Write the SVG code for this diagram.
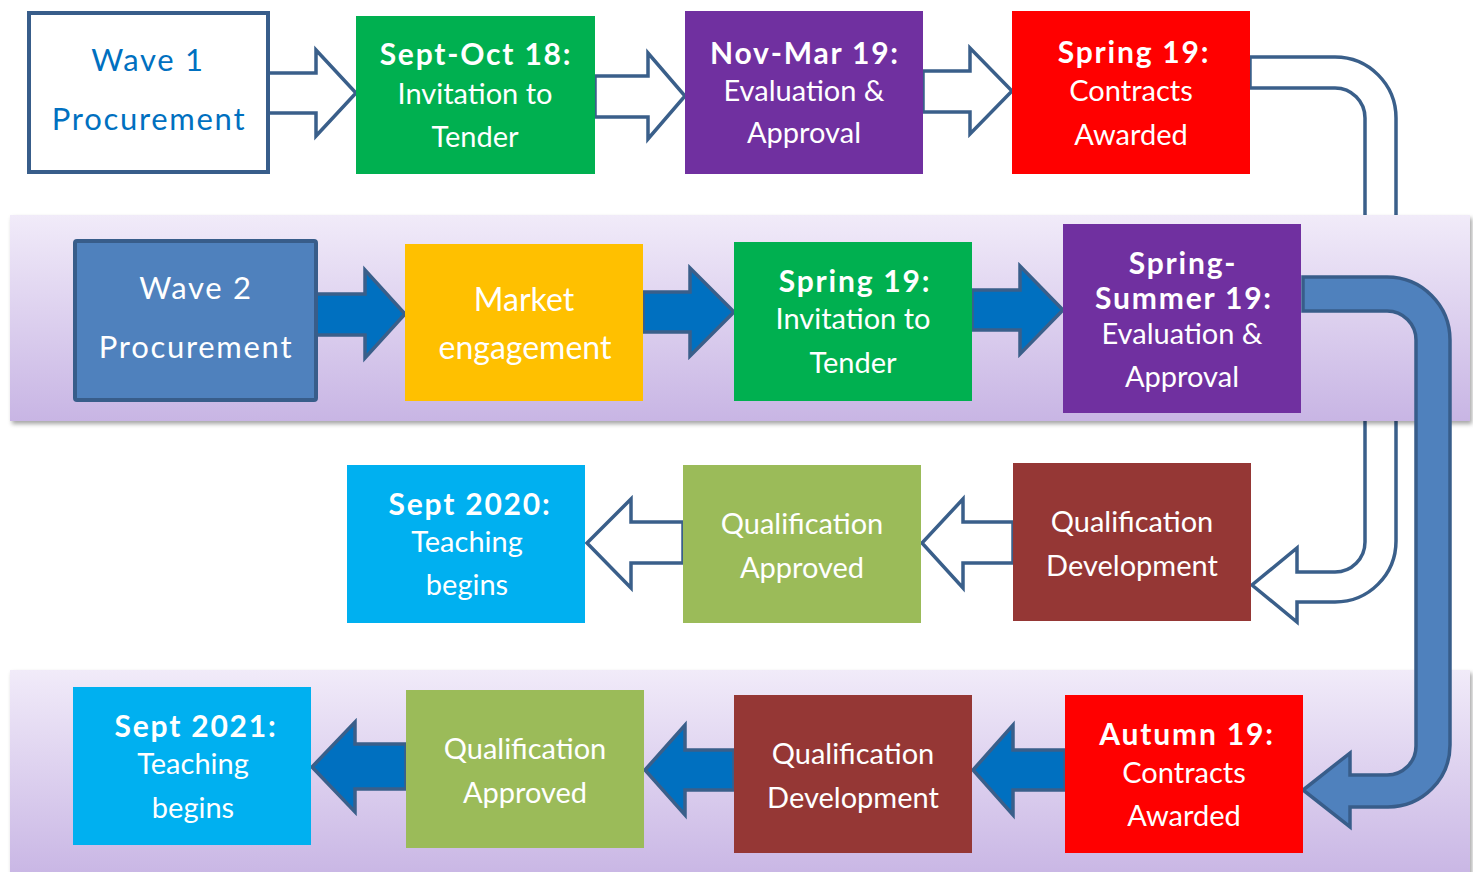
<svg xmlns="http://www.w3.org/2000/svg" width="1473" height="872" viewBox="0 0 1473 872">
  <defs>
    <linearGradient id="bandFill" x1="0" y1="0" x2="0" y2="1">
      <stop offset="0" stop-color="#f1ebf9"/>
      <stop offset="1" stop-color="#c8b5e4"/>
    </linearGradient>
    <filter id="bandShadow" x="-2%" y="-10%" width="104%" height="125%">
      <feDropShadow dx="2" dy="3" stdDeviation="2" flood-color="#000" flood-opacity="0.35"/>
    </filter>
  </defs>
  <style>
    .band { fill: url(#bandFill); filter: url(#bandShadow); }
    .outline-arrow { fill: #ffffff; stroke: #3a5f8a; stroke-width: 3.5; stroke-linejoin: miter; }
    .solid-arrow { fill: #0070c0; stroke: #3a5f8a; stroke-width: 3.5; stroke-linejoin: miter; }
    .bend-arrow { fill: #4f81bd; stroke: #385d8a; stroke-width: 3.5; }
    text { font-family: Lato, "Liberation Sans", sans-serif; font-size: 29px; fill: #ffffff; text-anchor: middle; }
    .b { font-weight: bold; font-size: 30px; letter-spacing: 1.8px; }
    .big { font-size: 31px; letter-spacing: 1.7px; }
    .mid { font-size: 32px; }
    .blue { fill: #0070c0; }
  </style>

  <rect width="1473" height="872" fill="#ffffff"/>

  <!-- bent outline arrow from the wave 1 contracts down to wave 1 development -->
  <g id="bend-wave1">
    <path class="outline-arrow" d="M1250,57 H1335 A61,61 0 0 1 1396,118 V541 A61,61 0 0 1 1335,602 H1297 V622 L1252,585 L1297,548 V572 H1335 A30,30 0 0 0 1365,542 V118 A30,30 0 0 0 1335,88 H1250 Z"/>
  </g>

  <!-- wave 2 background bands -->
  <rect class="band" x="10" y="215" width="1460" height="206"/>
  <rect class="band" x="10" y="670" width="1460" height="210"/>

  <g id="connectors">
    <!-- wave 1, left to right -->
    <path class="outline-arrow" d="M268,73 H316 V50 L356,93 L316,136 V113 H268 Z"/>
    <path class="outline-arrow" d="M595,76 H648 V53 L685,96 L648,139 V117 H595 Z"/>
    <path class="outline-arrow" d="M923,71 H970 V48 L1012,91 L970,134 V112 H923 Z"/>
    <!-- wave 2, left to right -->
    <path class="solid-arrow" d="M316,294 H365 V270 L405,314 L365,358 V335 H316 Z"/>
    <path class="solid-arrow" d="M643,292 H690 V268 L734,312 L690,356 V332 H643 Z"/>
    <path class="solid-arrow" d="M972,290 H1020 V266 L1063,310 L1020,354 V330 H972 Z"/>
    <!-- wave 1 delivery, right to left -->
    <path class="outline-arrow" d="M683,522 H631 V499 L587,543 L631,588 V563 H683 Z"/>
    <path class="outline-arrow" d="M1013,522 H963 V499 L922,543 L963,588 V563 H1013 Z"/>
    <!-- wave 2 delivery, right to left -->
    <path class="solid-arrow" d="M406,744 H355 V722 L312,767 L355,812 V789 H406 Z"/>
    <path class="solid-arrow" d="M734,750 H685 V725 L645,770 L685,815 V790 H734 Z"/>
    <path class="solid-arrow" d="M1065,750 H1013 V725 L973,770 L1013,815 V790 H1065 Z"/>
    <!-- bent solid arrow from wave 2 evaluation down to wave 2 contracts -->
    <path class="bend-arrow" d="M1303,277 H1387 A63,63 0 0 1 1450,340 V745 A62,62 0 0 1 1388,807 H1350 V827 L1303,790 L1350,753 V775 H1387 A29,29 0 0 0 1416,746 V340 A29,29 0 0 0 1387,311 H1303 Z"/>
  </g>

  <!-- wave 1 -->
  <g id="wave1-procurement">
    <rect x="29" y="13" width="239" height="159" fill="#ffffff" stroke="#385d8a" stroke-width="4"/>
    <text class="blue big" x="148" y="71">Wave 1</text>
    <text class="blue big" x="149" y="130">Procurement</text>
  </g>
  <g id="wave1-itt">
    <rect x="356" y="16" width="239" height="158" fill="#00b050"/>
    <text class="b" x="476" y="65">Sept-Oct 18:</text>
    <text x="475" y="104">Invitation to</text>
    <text x="475" y="147">Tender</text>
  </g>
  <g id="wave1-evaluation">
    <rect x="685" y="11" width="238" height="163" fill="#7030a0"/>
    <text class="b" x="805" y="64">Nov-Mar 19:</text>
    <text x="804" y="101">Evaluation &amp;</text>
    <text x="804" y="143">Approval</text>
  </g>
  <g id="wave1-contracts">
    <rect x="1012" y="11" width="238" height="163" fill="#ff0000"/>
    <text class="b" x="1134" y="63">Spring 19:</text>
    <text x="1131" y="101">Contracts</text>
    <text x="1131" y="145">Awarded</text>
  </g>

  <!-- wave 2 -->
  <g id="wave2-procurement">
    <rect x="75" y="241" width="241" height="159" rx="2" fill="#4f81bd" stroke="#385d8a" stroke-width="4"/>
    <text class="big" x="196" y="299">Wave 2</text>
    <text class="big" x="196" y="358">Procurement</text>
  </g>
  <g id="wave2-market">
    <rect x="405" y="244" width="238" height="157" fill="#ffc000"/>
    <text class="mid" x="524" y="311">Market</text>
    <text class="mid" x="525" y="359">engagement</text>
  </g>
  <g id="wave2-itt">
    <rect x="734" y="242" width="238" height="159" fill="#00b050"/>
    <text class="b" x="855" y="292">Spring 19:</text>
    <text x="853" y="329">Invitation to</text>
    <text x="853" y="373">Tender</text>
  </g>
  <g id="wave2-evaluation">
    <rect x="1063" y="224" width="238" height="189" fill="#7030a0"/>
    <text class="b" x="1183" y="274">Spring-</text>
    <text class="b" x="1184" y="309">Summer 19:</text>
    <text x="1182" y="344">Evaluation &amp;</text>
    <text x="1182" y="387">Approval</text>
  </g>

  <!-- wave 1 delivery -->
  <g id="wave1-teaching">
    <rect x="347" y="465" width="238" height="158" fill="#00b0f0"/>
    <text class="b" x="470" y="515">Sept 2020:</text>
    <text x="467" y="552">Teaching</text>
    <text x="467" y="595">begins</text>
  </g>
  <g id="wave1-approved">
    <rect x="683" y="465" width="238" height="158" fill="#9bbb59"/>
    <text x="802" y="534">Qualification</text>
    <text x="802" y="578">Approved</text>
  </g>
  <g id="wave1-development">
    <rect x="1013" y="463" width="238" height="158" fill="#953735"/>
    <text x="1132" y="532">Qualification</text>
    <text x="1132" y="576">Development</text>
  </g>

  <!-- wave 2 delivery -->
  <g id="wave2-teaching">
    <rect x="73" y="687" width="238" height="158" fill="#00b0f0"/>
    <text class="b" x="196" y="737">Sept 2021:</text>
    <text x="193" y="774">Teaching</text>
    <text x="193" y="818">begins</text>
  </g>
  <g id="wave2-approved">
    <rect x="406" y="690" width="238" height="158" fill="#9bbb59"/>
    <text x="525" y="759">Qualification</text>
    <text x="525" y="803">Approved</text>
  </g>
  <g id="wave2-development">
    <rect x="734" y="695" width="238" height="158" fill="#953735"/>
    <text x="853" y="764">Qualification</text>
    <text x="853" y="808">Development</text>
  </g>
  <g id="wave2-contracts">
    <rect x="1065" y="695" width="238" height="158" fill="#ff0000"/>
    <text class="b" x="1187" y="745">Autumn 19:</text>
    <text x="1184" y="783">Contracts</text>
    <text x="1184" y="826">Awarded</text>
  </g>
</svg>
